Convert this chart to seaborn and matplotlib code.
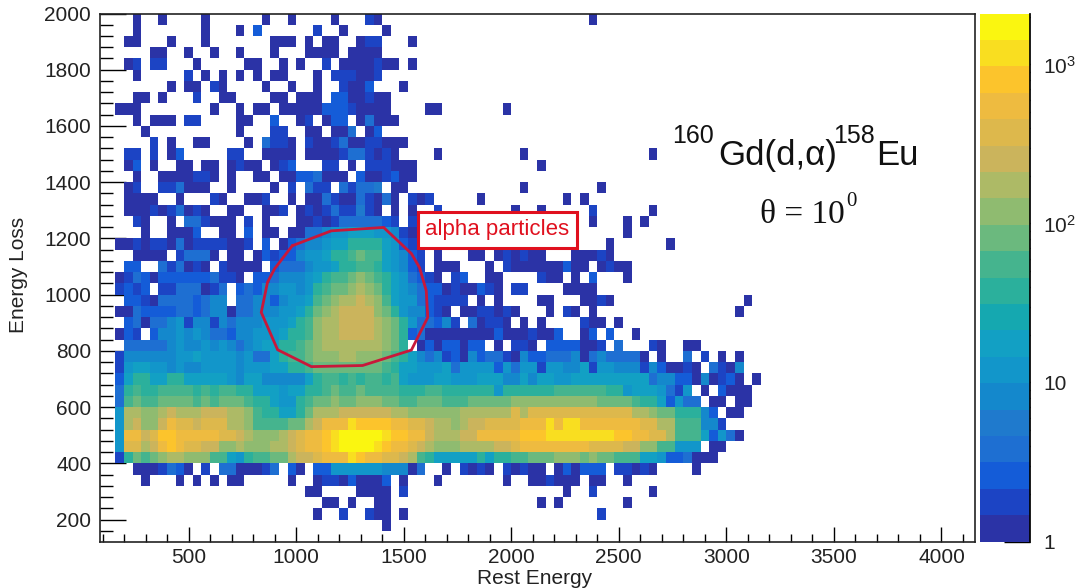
import matplotlib
matplotlib.use("Agg")
import matplotlib.pyplot as plt
import numpy as np
import pandas as pd
import seaborn as sns
from matplotlib.colors import ListedColormap, LogNorm
from matplotlib.ticker import FixedLocator, NullFormatter

# bin layout of the histogram
bin_width = 40
x_first_edge = 160
y_top_edge = 2000
z_max = 2090

# colour band of each cell, top row first: . is empty, 1-9 then a-k are bands 1 to 20
band_rows = [
    "..1..1.... 1......1.. 1....1...2 1......... .......... .....1.... .......... .....",
    "..1....... 1...1.3... ...2..1... .1........ .......... .......... .......... .....",
    ".11...1... 1.......11 1.1.11..12 2...1..... .......... .......... .......... .....",
    "....11..1. .1..1...1. ..1111.111 1......... .......... .......... .......... .....",
    ".12.22...1 .....11..1 .1..2.1111 211.1..... .......... .......... .......... .....",
    "..1.....2. 1.1.1.1.11 ...1.22211 2......... .......... .......... .......... .....",
    "......1.11 .21....1.. 1..1..2113 ...1...... .......... .......... .......... .....",
    "..11.1...2 ..11....11 .111.33112 11........ .......... .......... .......... .....",
    "111....... .1..1.11.1 1111333211 11....11.. .....1.... .......... .......... .....",
    "..1.111.22 ....11..3. .12.133.14 111....... .......... .......... .......... .....",
    "...1...... ....1...22 ..11.114.1 3......... .......... .......... .......... .....",
    "....2.1..1 1....1.422 1.21124112 2111...... .......... .......... .......... .....",
    ".22.2.13.. ...22..111 1.11112442 121....1.. .......1.. .......... ..1....... .....",
    ".13.1..11. 11.1211.12 3...22.1.2 22111..... .........1 .......... .......... .....",
    "..1..11112 21.1..11.1 1334111.31 12311..... .......... .......... .......... .....",
    ".12..22411 1..1....1. 2.422.4244 5.11...... .......1.. ......1... .......... .....",
    ".1111..1.. .21..112.. 1.11421142 141.212... ..1....... ..1.1..... .......... .....",
    ".111212412 1..11..112 .121242252 1.1.1..2.. ......1..1 .....2.... ..1....... .....",
    "..21..1.44 2111.2.1.. .112124444 432.2..... .......... .....1...1 .1........ .....",
    "...1..1113 ..11.3.11. 1144677888 77621..... .......... .........1 .......... .....",
    "1121221412 222112.3.1 3466788aaa a87321.... .......... .1.....1.. ....1..... .....",
    "..1111.244 41.11.1323 36778aabcb b87632.1.. .11.121211 ...11121.. .......... .....",
    ".33..42412 1.21111.34 446778aabb a87632.111 ...1.21111 11311.1211 .......... .....",
    "1243133333 34221.3346 6678abbcdc ba874321.2 3..11....2 11.1.3...1 .......... .....",
    "2323.22444 124.343667 767abccded ca87643312 11321.22.. ..1111.... .......... .....",
    ".332144443 466.446636 778bcdeefe db87743222 2.1.1....1 1...1121.. .......... ...1.",
    "1143333443 4661446667 78acdeffff dca766321. 1122121... 1.21.1.... .......... ..1..",
    ".341446726 6264666777 8abdeeffff edca744362 .41221.1.1 ....211.1. .......... .....",
    "132.366767 6443667778 aabdeeffff edca341111 1111311121 13..13.3.. 1......... .....",
    ".444446766 767646788a abcdeeeeee edca.13133 133.1.221. 3333112.4. ..21..11.. .....",
    "2666666778 777767448a bbcdddeedd dcba864623 1634421633 4446146444 41.1..4.2. 1.1..",
    "2788776766 7777677788 aabccccccc cba8877784 7777374772 7766827766 62631121.4 216..",
    "38aa88aa88 8887688666 668abbabab bab8777887 7788866868 8778888888 8846633161 231.1",
    "4abaabbbba babbaa8887 88aabcbbcb bbbaaabbaa aaaa7aaaaa abbbbbbaa7 8887427.1. 3111.",
    "4bcbbccccb cbcccbaa87 7abccdccdd dccbbcccbb bcccccdddd ddddddcccc baa83744.1 1.11.",
    "7eeddefeee fffeedbaa8 8aceeeffff ffeedddddd eeeeeegegg gggggggggg eedccaaa63 .11..",
    "7efddfhggf gggeedbbbb ccefhhhjii iihhggfeed effgggghhh jhjjhhhhhh hggeebbb66 2....",
    "7hhfgiihhh hhggfeddde fghhijkkkk kjiihhfeee ffhhhhhiii jjjjjjjjii hhggebbb83 741..",
    "7ggefhihgg ffddedddee fghhijkkkk jihhgfeddd eeeeffghhh hhhhhggggf fddbb777.1 1....",
    "2acbcdeedd dbb87abbcc effghhhjih hggfeba888 88a8aabbcc cdddcdccbb b887334111 .....",
    "..1112431. 2.4411124. 31.3377777 766614..1. 2121.21211 .131333.22 121....1.. .....",
    "...1...1.1 .1.11..... 1..1221311 13.1...1.. .....1..11 2111.11..1 .......... .....",
    ".......... .......... ..11....11 11.2...... .......... ..1..2.... ..1....... .....",
    ".......... .......... ....11.1.. 11........ .........1 .1.......1 .......... .....",
    ".......... .......... ...1..2..2 11.1...... .......... ......2... .......... .....",
    ".......... .......... .......... .1........ .......... .......... .......... .....",
    ".......... .......... .......... .......... .......... .......... .......... .....",
]

band_colors = [
    "#2B33A6", "#1C44C4", "#145CD8", "#1E6FD2", "#1F7ACD",
    "#1488CC", "#1296CA", "#12A0C4", "#15A8B0", "#2BB09C",
    "#45B48E", "#6BB97E", "#8FBB70", "#ADBA66", "#CBB45C",
    "#DDB84C", "#EEBB40", "#FCC42C", "#F9DE20", "#FAF610",
]

x_major = [500, 1000, 1500, 2000, 2500, 3000, 3500, 4000]
y_major = [200, 400, 600, 800, 1000, 1200, 1400, 1600, 1800, 2000]
x_range = (86, 4156)
y_range = (122, 2000)

# red cut drawn around the alpha particles
cut_x = [982, 1164, 1407, 1536, 1574, 1605, 1612, 1536, 1309, 1071, 914, 838, 867, 900, 982]
cut_y = [1174, 1227, 1239, 1146, 1096, 1014, 919, 803, 748, 744, 804, 937, 1044, 1092, 1174]


def decode_counts(rows):
    codes = ".123456789abcdefghijk"
    step = np.log10(z_max) / len(band_colors)
    grid = []
    for row in rows:
        row = row.replace(" ", "").ljust(75, ".")[:75]
        bands = [codes.index(c) for c in row]
        grid.append([10 ** ((b - 0.5) * step) if b else np.nan for b in bands])
    return np.array(grid)


def to_col(x):
    return (np.asarray(x, dtype=float) - x_first_edge) / bin_width


def to_row(y):
    return (y_top_edge - np.asarray(y, dtype=float)) / bin_width


counts = decode_counts(band_rows)
x_edges = x_first_edge + bin_width * np.arange(counts.shape[1])
y_edges = y_top_edge - bin_width * np.arange(counts.shape[0])
hist = pd.DataFrame(counts, index=y_edges, columns=x_edges)

sns.set_theme(style="white")
plt.rcParams["font.family"] = ["Liberation Sans", "DejaVu Sans"]
plt.rcParams["mathtext.fontset"] = "custom"
plt.rcParams["mathtext.rm"] = "Liberation Sans"
plt.rcParams["mathtext.default"] = "rm"

W, H = 1076, 588
fig = plt.figure(figsize=(W / 100, H / 100), dpi=100)
ax = fig.add_axes([99.5 / W, 1 - 541.5 / H, 875.5 / W, 528 / H])
cax = fig.add_axes([980 / W, 1 - 541.5 / H, 49.5 / W, 528 / H])

sns.heatmap(
    hist,
    ax=ax,
    cbar_ax=cax,
    cmap=ListedColormap(band_colors),
    norm=LogNorm(vmin=1, vmax=z_max),
    xticklabels=False,
    yticklabels=False,
    linewidths=0,
)

ax.set_xlim(to_col(x_range[0]), to_col(x_range[1]))
ax.set_ylim(to_row(y_range[0]), to_row(y_range[1]))
for side in ax.spines.values():
    side.set_visible(True)
    side.set_color("#222222")
    side.set_linewidth(1.2)

text_color = "#222222"
ax.set_xticks(to_col(x_major))
ax.set_xticklabels([str(v) for v in x_major], fontsize=15, color=text_color)
ax.set_xticks(to_col(np.arange(100, 4101, 100)), minor=True)
ax.set_yticks(to_row(y_major))
ax.set_yticklabels([str(v) for v in y_major], fontsize=15, color=text_color, rotation=0)
ax.set_yticks(to_row(np.arange(160, 2001, 40)), minor=True)
ax.tick_params(axis="x", which="major", direction="in", length=11, width=1, pad=5, bottom=True, color="black")
ax.tick_params(axis="x", which="minor", direction="in", length=5.5, width=1, bottom=True, color="black")
ax.tick_params(axis="y", which="major", direction="in", length=18.7, width=1, pad=6, left=True, color="black")
ax.tick_params(axis="y", which="minor", direction="in", length=9.4, width=1, left=True, color="black")

ax.set_xlabel("Rest Energy", fontsize=15, color=text_color)
ax.xaxis.set_label_coords((535 - 99.5) / 875.5, -27 / 528, transform=ax.transAxes)
ax.set_ylabel("Energy Loss", fontsize=15, color=text_color)
ax.yaxis.set_label_coords((28 - 99.5) / 875.5, (541.5 - 275) / 528, transform=ax.transAxes)

ax.plot(to_col(cut_x), to_row(cut_y), color="#C8183A", lw=2.0, solid_joinstyle="miter")

# colour scale
major_z = [1, 10, 100, 1000]
minor_z = [m * d for d in (1, 10, 100, 1000) for m in range(2, 10) if m * d <= z_max]
cax.yaxis.set_major_locator(FixedLocator(major_z))
cax.yaxis.set_minor_locator(FixedLocator(minor_z))
cax.yaxis.set_minor_formatter(NullFormatter())
cax.set_yticklabels(["1", "10", "$10^{2}$", "$10^{3}$"], fontsize=15, color=text_color)
cax.yaxis.tick_right()
cax.tick_params(axis="y", which="major", direction="in", length=18.7, width=1, pad=10, right=True, color="black")
cax.tick_params(axis="y", which="minor", direction="in", length=9.4, width=1, right=True, color="black")
for name, side in cax.spines.items():
    side.set_visible(name == "right")
    side.set_color("black")


def px_text(x, y, s, **kw):
    fig.text(x / W, 1 - y / H, s, **kw)


# reaction label, placed piece by piece like the original
px_text(672, 143, "160", fontsize=18, color="#111111", va="baseline")
px_text(718, 165, "Gd(d,\u03b1)", fontsize=25, color="#111111", va="baseline")
px_text(833, 143, "158", fontsize=18, color="#111111", va="baseline")
px_text(876, 165, "Eu", fontsize=25, color="#111111", va="baseline")
px_text(760, 223, "\u03b8 = 10", fontsize=24, color="#111111", va="baseline", family="Liberation Serif")
px_text(846, 206, "0", fontsize=15, color="#111111", va="baseline", family="Liberation Serif")

px_text(
    497.5, 230, "alpha particles", fontsize=16, color="#E0101E", ha="center", va="center",
    bbox=dict(boxstyle="square,pad=0.32", facecolor="white", edgecolor="#E0101E", linewidth=2.2),
)

fig.savefig("out.png", dpi=100)
